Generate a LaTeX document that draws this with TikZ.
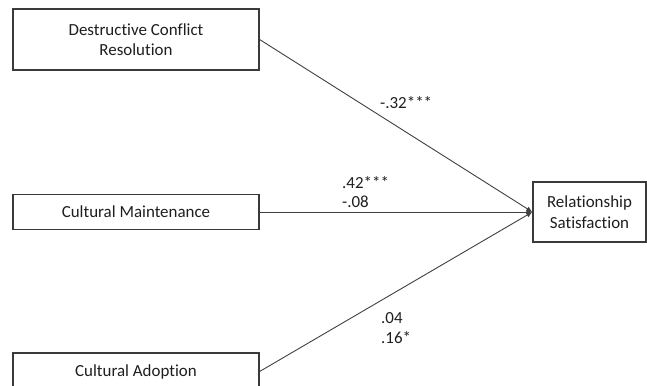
\documentclass[tikz,border=0pt]{standalone}
\usepackage{fontspec}
\setmainfont{Carlito}[Ligatures={NoCommon,NoRare,NoDiscretionary}]
\usetikzlibrary{arrows.meta}
\definecolor{boxc}{HTML}{3A3A3A}
\definecolor{linec}{HTML}{404040}
\definecolor{txtc}{HTML}{1E1E1E}
\begin{document}
\begin{tikzpicture}[x=1bp,y=-1bp,
  box/.style={draw=boxc, line width=1.2bp, fill=white, align=center, inner sep=0pt, text=txtc, font=\fontsize{17}{20.5}\selectfont},
  lbl/.style={font=\fontsize{17}{20}\selectfont, inner sep=0pt, anchor=base west, text=txtc},
  pathline/.style={draw=linec, line width=0.9bp, -{Latex[length=6bp,width=5bp]}}]
\useasboundingbox (0,0) rectangle (647,385);
\clip (0,0) rectangle (647,385);
\node[box, minimum width=246bp, minimum height=61bp] (dcr) at (136,39.5) {Destructive Conflict\\Resolution};
\node[box, minimum width=246bp, minimum height=35bp] (cm) at (136,212) {Cultural Maintenance};
\node[box, minimum width=246bp, minimum height=37bp] (ca) at (136,371.5) {Cultural Adoption};
\node[box, minimum width=113bp, minimum height=60bp] (rs) at (589.5,212) {Relationship\\Satisfaction};
\draw[pathline] (dcr.east) -- (rs.west);
\draw[pathline] (cm.east) -- (rs.west);
\draw[pathline] (ca.east) -- (rs.west);
\node[lbl] (l1) at (380,108) {-.32***};
\node[lbl] (l2) at (342,188) {.42***};
\node[lbl] (l3) at (342,207) {-.08};
\node[lbl] (l4) at (381,323) {.04};
\node[lbl] (l5) at (381,343) {.16*};
\end{tikzpicture}
\end{document}
